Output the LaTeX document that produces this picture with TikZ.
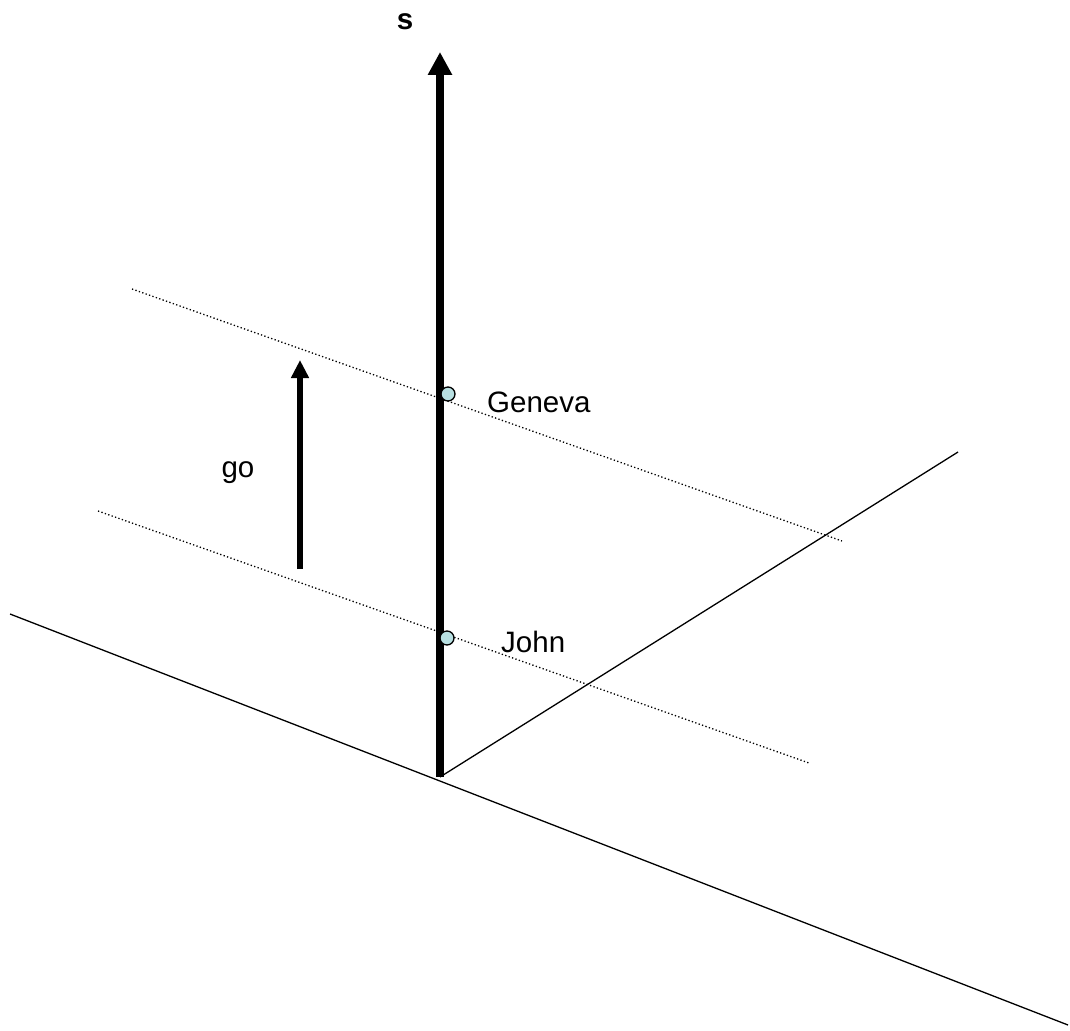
\documentclass[tikz,border=0pt]{standalone}
\usepackage{fontspec}
\setmainfont{Liberation Sans}
\usetikzlibrary{arrows.meta}
\definecolor{dotfill}{RGB}{184,224,226}
\begin{document}
\begin{tikzpicture}[x=1pt,y=-1pt,
  thinline/.style={line width=1.3pt,black},
  dotline/.style={line width=1.3pt,dash pattern=on 1.3pt off 2.3pt},
  marker/.style={circle,draw,line width=1.3pt,fill=dotfill,minimum size=14pt,inner sep=0pt},
  lbl/.style={font=\fontsize{29.5}{32}\selectfont,inner sep=0pt}]
\useasboundingbox (0,0) rectangle (1070,1030);
% coordinates
\coordinate (O) at (440,777);
\coordinate (Top) at (440,52);
\coordinate (L1) at (10,614);
\coordinate (L2) at (1068,1025);
\coordinate (R) at (958,452);
\coordinate (D1a) at (132,289);
\coordinate (D1b) at (842,541);
\coordinate (D2a) at (98,511);
\coordinate (D2b) at (809,763);
\coordinate (Gb) at (300,569);
\coordinate (Gt) at (300,360);
% lines
\draw[thinline] (L1) -- (L2);
\draw[thinline] (O) -- (R);
\draw[dotline] (D1a) -- (D1b);
\draw[dotline] (D2a) -- (D2b);
% main axis
\draw[line width=8pt,-{Triangle[width=23pt,length=23pt]}] (O) -- (Top);
% go arrow
\draw[line width=6pt,-{Triangle[width=17pt,length=18pt]}] (Gb) -- (Gt);
% markers
\node[marker] (geneva) at (448,394) {};
\node[marker] (john) at (447,638) {};
% labels
\node[lbl,font=\fontsize{29.5}{32}\selectfont\bfseries] (s) at (405,22) {s};
\node[lbl] (go) at (238,473) {go};
\node[lbl,anchor=base west] (genevaL) at (487,412) {Geneva};
\node[lbl,anchor=base west] (johnL) at (501,652) {John};
\end{tikzpicture}
\end{document}
